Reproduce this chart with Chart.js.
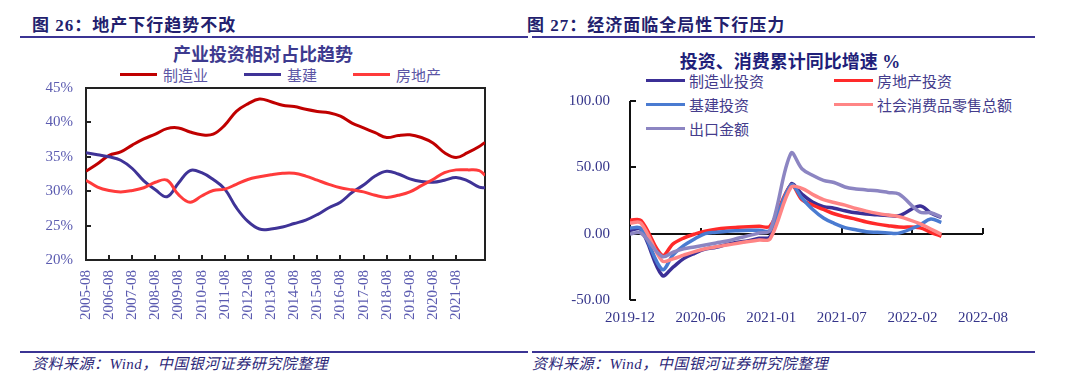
<!DOCTYPE html>
<html>
<head>
<meta charset="utf-8">
<script src="https://cdn.jsdelivr.net/npm/chart.js@4.4.0/dist/chart.umd.min.js"></script>
<style>
body{margin:0;background:#fff;width:1080px;height:384px;position:relative;overflow:hidden;font-family:"Liberation Serif","Noto Sans CJK SC",serif}
.hd{position:absolute;top:17px;font-size:17px;line-height:17px;letter-spacing:1px;font-weight:bold;color:#231f6e;white-space:nowrap}
.rule{position:absolute;height:2px;background:#3b3494}
.ft{position:absolute;top:357px;font-size:15px;line-height:15px;letter-spacing:0.5px;font-style:italic;color:#2d2878;white-space:nowrap}
.ttl{position:absolute;font-weight:bold;white-space:nowrap;transform:translateX(-50%)}
.lg{position:absolute;display:flex;align-items:center;white-space:nowrap;font-family:"Noto Sans CJK SC",sans-serif;font-size:15px;line-height:15px}
.lg i{display:inline-block;width:37px;height:3px;margin-right:6px}
.grid2{position:absolute;display:grid;grid-template-columns:188px auto;grid-auto-rows:24px;font-family:"Noto Sans CJK SC",sans-serif;font-size:15px;color:#443c8c}
.grid2 div{display:flex;align-items:center;white-space:nowrap}
.grid2 i{display:inline-block;width:39px;height:3px;margin-right:4px}
canvas{position:absolute}
</style>
</head>
<body>
<div class="hd" style="left:32px">图 26：地产下行趋势不改</div>
<div class="hd" style="left:527px">图 27：经济面临全局性下行压力</div>
<div class="rule" style="left:20px;top:36px;width:508px"></div>
<div class="rule" style="left:532px;top:36px;width:503px"></div>

<div class="ttl" style="left:263px;top:46px;font-size:18px;line-height:18px;color:#3d3a8f">产业投资相对占比趋势</div>
<div class="lg" id="lg1" style="left:120px;top:67px;color:#5b55a5"></div>
<canvas id="c1" width="540" height="274" style="left:0;top:66px"></canvas>

<div class="ttl" style="left:790px;top:53px;font-size:18px;line-height:18px;color:#1f1f7a">投资、消费累计同比增速 %</div>
<div class="grid2" id="lg2" style="left:646px;top:68px"></div>
<canvas id="c2" width="540" height="268" style="left:540px;top:72px"></canvas>

<div class="rule" style="left:20px;top:351px;width:508px"></div>
<div class="rule" style="left:532px;top:351px;width:503px"></div>
<div class="ft" style="left:32px">资料来源：Wind，中国银河证券研究院整理</div>
<div class="ft" style="left:532px">资料来源：Wind，中国银河证券研究院整理</div>

<script>
// --- 图26 产业投资相对占比 (%) ---
const leftDates = ['2005-08','2006-02','2006-08','2007-02','2007-08','2008-02','2008-08','2009-02','2009-08',
  '2010-02','2010-08','2011-02','2011-08','2012-02','2012-08','2013-02','2013-08','2014-02','2014-08',
  '2015-02','2015-08','2016-02','2016-08','2017-02','2017-08','2018-02','2018-08','2019-02','2019-08',
  '2020-02','2020-08','2021-02','2021-08','2022-02','2022-08','2022-11'];
const mfgShare = [32.9,34.0,35.2,35.7,36.7,37.6,38.3,39.1,39.2,38.6,38.2,38.3,39.6,41.6,42.7,43.4,43.0,42.5,
  42.3,41.9,41.6,41.4,40.9,39.9,39.2,38.5,37.8,38.1,38.2,37.8,37.0,35.6,34.9,35.6,36.5,37.1];
const infraShare = [35.6,35.3,35.0,34.5,33.3,31.5,30.2,29.2,31.2,33.0,32.7,31.7,30.3,27.6,25.6,24.5,24.5,24.8,
  25.3,25.8,26.6,27.6,28.4,29.8,30.9,32.2,32.9,32.5,31.8,31.4,31.3,31.6,32.0,31.5,30.6,30.5];
const estateShare = [31.6,30.6,30.1,29.9,30.1,30.5,31.3,31.6,29.5,28.4,29.3,30.1,30.3,31.0,31.7,32.1,32.4,32.6,
  32.6,32.2,31.6,31.0,30.5,30.2,29.9,29.4,29.1,29.4,29.9,30.8,31.7,32.7,33.1,33.1,33.0,32.3];
const leftNames = ['制造业','基建','房地产'];
const leftColors = ['#c00000','#3f3397','#ff3b3b'];
const leftTicks = ['2005-08','2006-08','2007-08','2008-08','2009-08','2010-08','2011-08','2012-08','2013-08',
  '2014-08','2015-08','2016-08','2017-08','2018-08','2019-08','2020-08','2021-08'];

// --- 图27 投资、消费累计同比 (%) ---
const rightDates = ['2019-11-30','2019-12-31','2020-02-29','2020-03-31','2020-04-30','2020-05-31','2020-06-30',
  '2020-07-31','2020-08-31','2020-09-30','2020-10-31','2020-11-30','2020-12-31','2021-02-28','2021-03-31',
  '2021-04-30','2021-05-31','2021-06-30','2021-07-31','2021-08-31','2021-09-30','2021-10-31','2021-11-30',
  '2021-12-31','2022-02-28','2022-03-31','2022-04-30'];
const mfgInv = [2.5,3.1,-31.5,-25.2,-18.8,-14.8,-11.7,-10.2,-8.1,-6.5,-5.3,-3.5,-2.2,37.3,29.8,23.8,20.4,19.2,
  17.3,15.7,14.8,14.2,13.7,13.5,20.9,15.6,12.2];
const estateInv = [10.2,9.9,-16.3,-7.7,-3.3,-0.3,1.9,3.4,4.3,4.8,5.2,5.5,5.7,36.5,25.6,21.6,18.3,15.0,12.7,
  10.9,8.8,7.2,6.0,5.0,4.5,1.0,-2.0];
const infraInv = [4.3,3.8,-27.0,-16.0,-9.0,-4.0,0.0,1.0,1.8,2.2,2.5,2.6,2.5,36.6,26.8,18.4,11.8,7.8,4.6,2.9,
  1.5,1.0,0.5,0.4,6.5,11.0,8.5];
const retailSales = [8.0,8.0,-20.5,-19.0,-16.2,-13.5,-11.4,-9.9,-8.6,-7.2,-5.9,-4.8,-3.9,35.0,34.2,29.6,25.7,
  23.5,21.5,19.0,17.0,15.3,14.0,12.8,7.5,3.5,-0.5];
const exportsVal = [-0.3,0.5,-17.2,-14.0,-11.5,-10.0,-8.5,-7.0,-5.5,-3.5,-1.5,0.5,2.5,60.6,49.0,44.0,40.2,38.6,
  35.2,33.7,33.0,32.3,31.1,29.9,16.3,15.8,12.5];
const rightNames = ['制造业投资','房地产投资','基建投资','社会消费品零售总额','出口金额'];
const rightColors = ['#3b2f96','#ff2a2a','#4a7bd1','#ff8585','#8c85c2'];
const rightTicks = ['2019-12','2020-06','2021-01','2021-07','2022-02','2022-08'];

const monthsFrom = s => { const [y, m] = s.split('-').map(Number); return (y - 2005) * 12 + m - 8; };
const dayOf = s => (Date.parse(s) - Date.parse('2019-11-30')) / 864e5;
const pts = (vals, dates, conv) => vals.map((v, i) => ({x: conv(dates[i]), y: v}));

// legends (html)
document.getElementById('lg1').innerHTML = leftNames.map((n, i) =>
  `<span style="display:flex;align-items:center;margin-right:${i < 2 ? 36 : 0}px"><i style="background:${leftColors[i]}"></i>${n}</span>`).join('');
document.getElementById('lg2').innerHTML = rightNames.map((n, i) =>
  `<div><i style="background:${rightColors[i]}"></i>${n}</div>`).join('');

const tickFont = {family: 'Liberation Serif', size: 15};

const boxMarks = {
  id: 'boxMarks',
  beforeDatasetsDraw(chart) {
    const {ctx, chartArea: a, scales: {x, y}} = chart;
    ctx.save();
    ctx.strokeStyle = '#222'; ctx.lineWidth = 2;
    ctx.strokeRect(a.left, a.top, a.right - a.left, a.bottom - a.top);
    ctx.beginPath();
    y.ticks.forEach(t => { const p = Math.round(y.getPixelForValue(t.value)); ctx.moveTo(a.left, p); ctx.lineTo(a.left + 5, p); });
    x.ticks.forEach(t => { const p = Math.round(x.getPixelForValue(t.value)); ctx.moveTo(p, a.bottom); ctx.lineTo(p, a.bottom - 5); });
    ctx.stroke();
    ctx.restore();
  }
};

const zeroAxis = {
  id: 'zeroAxis',
  beforeDatasetsDraw(chart) {
    const {ctx, chartArea: a, scales: {x, y}} = chart;
    const y0 = Math.round(y.getPixelForValue(0));
    ctx.save();
    ctx.strokeStyle = '#111'; ctx.lineWidth = 2;
    ctx.beginPath();
    ctx.moveTo(a.left, a.top); ctx.lineTo(a.left, a.bottom);
    y.ticks.forEach(t => { const p = Math.round(y.getPixelForValue(t.value)); ctx.moveTo(a.left, p); ctx.lineTo(a.left + 6, p); });
    ctx.moveTo(a.left, y0); ctx.lineTo(a.right, y0);
    x.ticks.forEach(t => { const p = Math.round(x.getPixelForValue(t.value)); ctx.moveTo(p, y0); ctx.lineTo(p, y0 - 6); });
    ctx.stroke();
    ctx.restore();
  }
};

const noGrid = {display: false, drawTicks: false};

const leftSeries = [mfgShare, infraShare, estateShare];
new Chart(document.getElementById('c1'), {
  type: 'line',
  data: {
    datasets: leftNames.map((n, i) => ({
      label: n, data: pts(leftSeries[i], leftDates, monthsFrom),
      borderColor: leftColors[i], borderWidth: 3, pointRadius: 0, tension: 0.4, order: 3 - i
    }))
  },
  options: {
    responsive: false, animation: false, events: [],
    layout: {padding: {top: 7, right: 55, left: 0, bottom: 0}},
    plugins: {legend: {display: false}, tooltip: {enabled: false}},
    scales: {
      x: {
        type: 'linear', min: 0, max: 207,
        grid: noGrid, border: {display: false},
        afterBuildTicks: s => { s.ticks = leftTicks.map(t => ({value: monthsFrom(t)})); },
        afterFit: s => { s.height = 80; },
        ticks: {autoSkip: false, minRotation: 90, maxRotation: 90, padding: 10, color: '#5b5bb0', font: tickFont,
          callback: (v, i) => leftTicks[i]}
      },
      y: {
        min: 20, max: 45,
        grid: noGrid, border: {display: false},
        afterFit: s => { s.width = 86; },
        ticks: {stepSize: 5, padding: 13, color: '#5b5bb0', font: tickFont, callback: v => v + '%'}
      }
    }
  },
  plugins: [boxMarks]
});

const rightSeries = [mfgInv, estateInv, infraInv, retailSales, exportsVal];
new Chart(document.getElementById('c2'), {
  type: 'line',
  data: {
    datasets: rightNames.map((n, i) => ({
      label: n, data: pts(rightSeries[i], rightDates, dayOf),
      borderColor: rightColors[i], borderWidth: 3.5, pointRadius: 0, tension: 0.35, order: 5 - i
    }))
  },
  options: {
    responsive: false, animation: false, events: [],
    layout: {padding: {top: 10, right: 97, left: 0, bottom: 0}},
    plugins: {legend: {display: false}, tooltip: {enabled: false}},
    scales: {
      x: {
        type: 'linear', min: 0, max: 1000,
        grid: noGrid, border: {display: false},
        afterBuildTicks: s => { s.ticks = rightTicks.map((t, i) => ({value: i * 200})); },
        afterFit: s => { s.height = 40; },
        ticks: {autoSkip: false, maxRotation: 0, padding: 9, color: '#35358a', font: tickFont,
          callback: (v, i) => rightTicks[i]}
      },
      y: {
        min: -50, max: 100,
        grid: noGrid, border: {display: false},
        afterFit: s => { s.width = 90; },
        ticks: {stepSize: 50, padding: 20, color: '#35358a', font: tickFont, callback: v => v.toFixed(2)}
      }
    }
  },
  plugins: [zeroAxis]
});
</script>
</body>
</html>
